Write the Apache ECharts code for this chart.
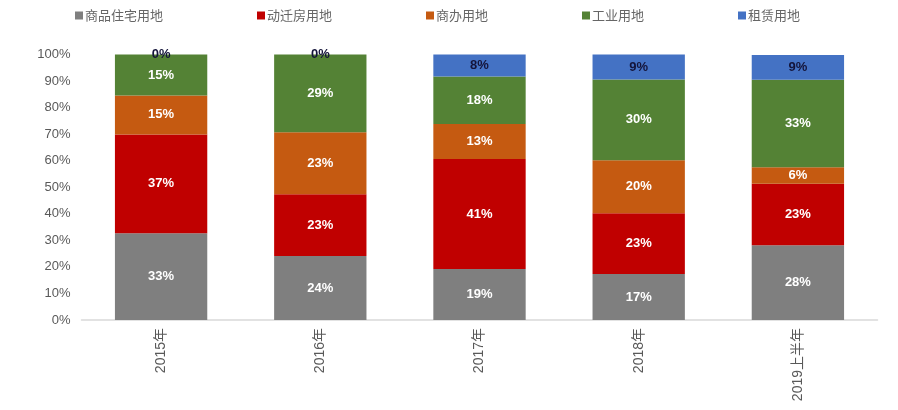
<!DOCTYPE html>
<html>
<head>
<meta charset="utf-8">
<script src="https://cdn.jsdelivr.net/npm/echarts@6/dist/echarts.min.js"></script>
<style>html,body{margin:0;padding:0;background:#fff}#c{width:898px;height:410px}</style>
</head>
<body>
<div id="c"></div>
<script>
const categories = ['2015年', '2016年', '2017年', '2018年', '2019上半年'];
const seriesNames = ['商品住宅用地', '动迁房用地', '商办用地', '工业用地', '租赁用地'];
const residential = [32.7, 24.1, 19.2, 17.3, 28.2];
const relocation = [37.2, 23.3, 41.4, 22.9, 23.1];
const commercial = [14.7, 23.3, 13.2, 20.0, 6.2];
const industrial = [15.4, 29.3, 17.9, 30.4, 33.0];
const rental = [0, 0, 8.3, 9.4, 9.3];
const colors = ['#7f7f7f', '#c00000', '#c55a11', '#548235', '#4472c4'];
const labelColors = ['#ffffff', '#ffffff', '#ffffff', '#ffffff', '#14143a'];
const allData = [residential, relocation, commercial, industrial, rental];

const chart = echarts.init(document.getElementById('c'));
chart.setOption({
  animation: false,
  backgroundColor: '#fff',
  textStyle: { fontFamily: '"Liberation Sans", Arial, "Noto Sans CJK SC", sans-serif' },
  legend: {
    left: 70, top: 4,
    itemWidth: 8, itemHeight: 8, itemGap: 94,
    icon: 'rect',
    textStyle: { color: '#666666', fontSize: 13, fontFamily: '"Noto Sans CJK SC", sans-serif', padding: [0, 0, 0, -3] },
    data: seriesNames
  },
  grid: { left: 81.5, right: 20.5, top: 54.5, bottom: 90 },
  xAxis: {
    type: 'category',
    data: categories,
    axisLine: { lineStyle: { color: '#d9d9d9', width: 1.5 } },
    axisTick: { show: false },
    axisLabel: { rotate: 90, color: '#595959', fontSize: 14, margin: 8, fontFamily: '"Liberation Sans", "Noto Sans CJK SC", sans-serif' }
  },
  yAxis: {
    type: 'value', min: 0, max: 100, interval: 10,
    axisLine: { show: false }, axisTick: { show: false },
    splitLine: { show: false },
    axisLabel: { formatter: '{value}%', color: '#595959', fontSize: 13, margin: 11 }
  },
  series: seriesNames.map((name, i) => ({
    name, type: 'bar', stack: 'total', barWidth: '58%',
    itemStyle: { color: colors[i] },
    label: {
      show: true, position: 'inside',
      color: labelColors[i], fontWeight: 'bold', fontSize: 13,
      formatter: p => Math.round(p.value) + '%'
    },
    data: allData[i]
  }))
});
</script>
</body>
</html>
